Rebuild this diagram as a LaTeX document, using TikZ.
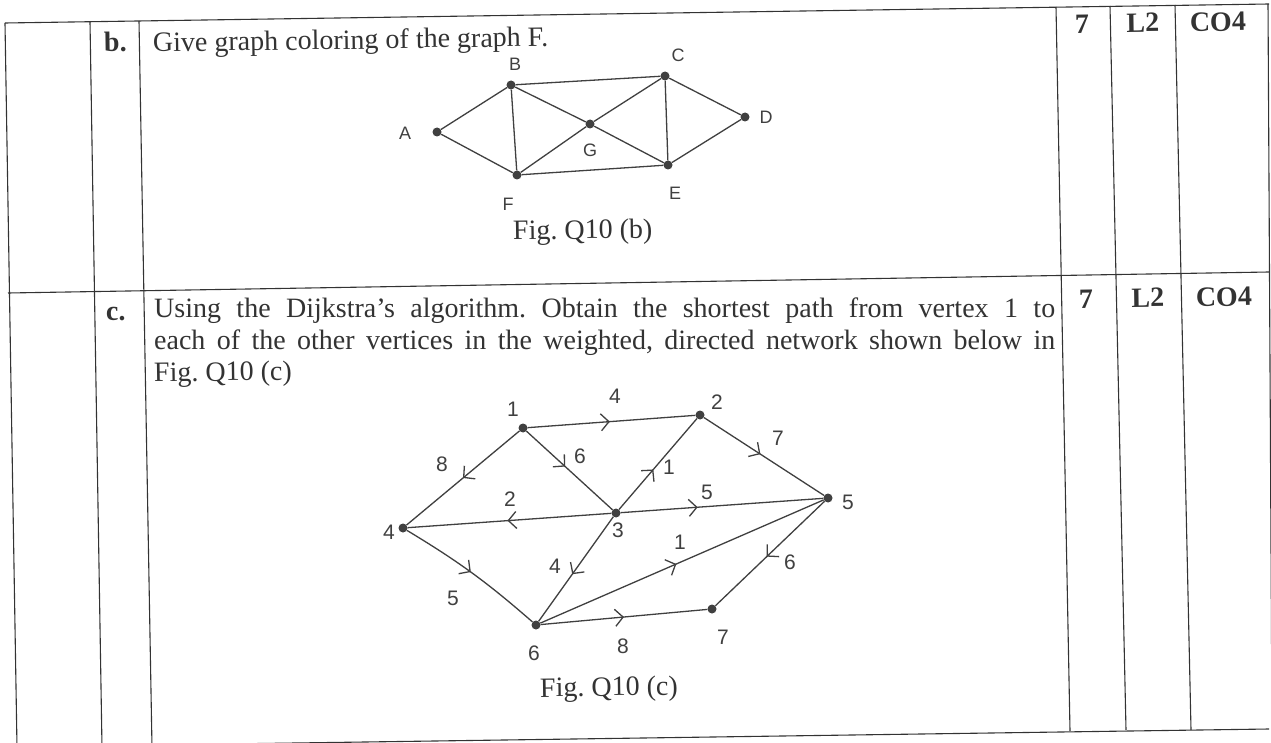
\documentclass[tikz,border=0pt]{standalone}
\usepackage{fontspec}
\setmainfont{Liberation Serif}
\newfontfamily\handfont{Liberation Sans}
\usetikzlibrary{arrows.meta,decorations.markings}
\definecolor{ink}{gray}{0.2}
\definecolor{pen}{gray}{0.25}
\frenchspacing
\tikzset{
  tbl/.style={draw=ink, line width=1.1pt},
  txt/.style={rotate=0.86, inner sep=0pt, text=ink, font=\fontsize{28}{33}\selectfont},
  flattxt/.style={inner sep=0pt, text=ink, font=\fontsize{28}{33}\selectfont},
  boldtxt/.style={txt, font=\fontsize{28}{33}\selectfont\bfseries},
  vtx/.style={circle, fill=pen, inner sep=0pt, minimum size=9pt},
  hlab/.style={inner sep=0pt, text=pen, font=\handfont\fontsize{18}{21}\selectfont},
  nlab/.style={inner sep=0pt, text=pen, font=\handfont\fontsize{21}{24}\selectfont},
  gedge/.style={draw=pen, line width=1.3pt},
  midarr/.style={gedge, postaction={decorate},
    decoration={markings, mark=at position #1 with {\arrow{Straight Barb[length=8pt,width=17pt,line width=1.3pt]}}}}
}
\begin{document}
\begin{tikzpicture}[x=1pt,y=-1pt]
\useasboundingbox (0,0) rectangle (1271,743);
\fill[white] (0,0) rectangle (1271,743);
% table frame
\draw[tbl] (5,23) -- (1269,4);
\draw[tbl] (8,293) -- (1269,272);
\draw[tbl] (17,747) -- (1269,729);
\draw[tbl] (5,23) -- (17,747);
\draw[tbl] (90,22) -- (102,747);
\draw[tbl] (139,21) -- (152,747);
\draw[tbl] (1056,7) -- (1070,731);
\draw[tbl] (1110,6) -- (1126,730);
\draw[tbl] (1175,5) -- (1191,730);
\draw[tbl] (1268,4) -- (1272,729);
% row b text
\node[boldtxt, anchor=base west] (bl) at (104,52) {b.};
\node[txt, anchor=base west, text depth=0pt] (bq) at (153,52) {Give graph coloring of the graph F.};
\node[boldtxt, anchor=base] (m1) at (1082,33) {7};
\node[boldtxt, anchor=base] (l1) at (1143,32) {L2};
\node[boldtxt, anchor=base] (c1) at (1218,31) {CO4};
% row c text
\node[boldtxt, anchor=base west] (cl) at (106,321) {c.};
\node[flattxt, anchor=base west] (cq1) at (154,317) {\makebox[901pt][s]{Using the Dijkstra’s algorithm. Obtain the shortest path from vertex 1 to}};
\node[flattxt, anchor=base west] (cq2) at (154,349) {\makebox[901pt][s]{each of the other vertices in the weighted, directed network shown below in}};
\node[txt, anchor=base west, text height=19pt] (cq3) at (154,382) {Fig. Q10 (c)};
\node[boldtxt, anchor=base] (m2) at (1086,308) {7};
\node[boldtxt, anchor=base] (l2) at (1148,307) {L2};
\node[boldtxt, anchor=base] (c2) at (1224,306) {CO4};
% graph F
\node[vtx] (A) at (437,132) {};
\node[vtx] (B) at (511,85) {};
\node[vtx] (C) at (665,76) {};
\node[vtx] (D) at (745,117) {};
\node[vtx] (E) at (668,165) {};
\node[vtx] (F) at (517,175) {};
\node[vtx] (G) at (590,124) {};
\node[hlab] (lA) at (405,133) {A};
\node[hlab] (lB) at (515,64) {B};
\node[hlab] (lC) at (678,55) {C};
\node[hlab] (lD) at (766,117) {D};
\node[hlab] (lE) at (675,193) {E};
\node[hlab] (lF) at (508,204) {F};
\node[hlab] (lG) at (590,150) {G};
\draw[gedge] (A) -- (B);
\draw[gedge] (A) -- (F);
\draw[gedge] (B) -- (F);
\draw[gedge] (B) -- (C);
\draw[gedge] (B) -- (G);
\draw[gedge] (F) -- (G);
\draw[gedge] (G) -- (C);
\draw[gedge] (G) -- (E);
\draw[gedge] (F) -- (E);
\draw[gedge] (C) -- (E);
\draw[gedge] (C) -- (D);
\draw[gedge] (E) -- (D);
\node[txt, anchor=base west] (capb) at (513,240) {Fig. Q10 (b)};
% graph c
\node[vtx] (n1) at (523,428) {};
\node[vtx] (n2) at (700,415) {};
\node[vtx] (n3) at (616,513) {};
\node[vtx] (n4) at (403,528) {};
\node[vtx] (n5) at (828,498) {};
\node[vtx] (n6) at (536,625) {};
\node[vtx] (n7) at (712,609) {};
\node[nlab] (t1) at (513,409) {1};
\node[nlab] (t2) at (717,402) {2};
\node[nlab] (t3) at (618,530) {3};
\node[nlab] (t4) at (389,532) {4};
\node[nlab] (t5) at (848,502) {5};
\node[nlab] (t6) at (534,653) {6};
\node[nlab] (t7) at (723,637) {7};
\draw[midarr=0.49] (n1) -- (n2);
\draw[midarr=0.5] (n1) -- (n4);
\draw[midarr=0.45] (n1) -- (n3);
\draw[midarr=0.44] (n3) -- (n2);
\draw[midarr=0.47] (n2) -- (n5);
\draw[midarr=0.51] (n3) -- (n4);
\draw[midarr=0.38] (n3) -- (n5);
\draw[midarr=0.49] (n4) to[bend left=5] (n6);
\draw[midarr=0.55] (n3) -- (n6);
\draw[midarr=0.48] (n6) -- (n5);
\draw[midarr=0.5] (n6) -- (n7);
\draw[midarr=0.53] (n5) -- (n7);
\node[nlab] (w12) at (615,396) {4};
\node[nlab] (w14) at (442,464) {8};
\node[nlab] (w13) at (580,456) {6};
\node[nlab] (w32) at (669,467) {1};
\node[nlab] (w25) at (778,438) {7};
\node[nlab] (w34) at (510,499) {2};
\node[nlab] (w35) at (707,492) {5};
\node[nlab] (w46) at (453,598) {5};
\node[nlab] (w36) at (555,566) {4};
\node[nlab] (w65) at (680,542) {1};
\node[nlab] (w67) at (623,646) {8};
\node[nlab] (w57) at (790,562) {6};
\node[txt, anchor=base west] (capc) at (540,697) {Fig. Q10 (c)};
\end{tikzpicture}
\end{document}
